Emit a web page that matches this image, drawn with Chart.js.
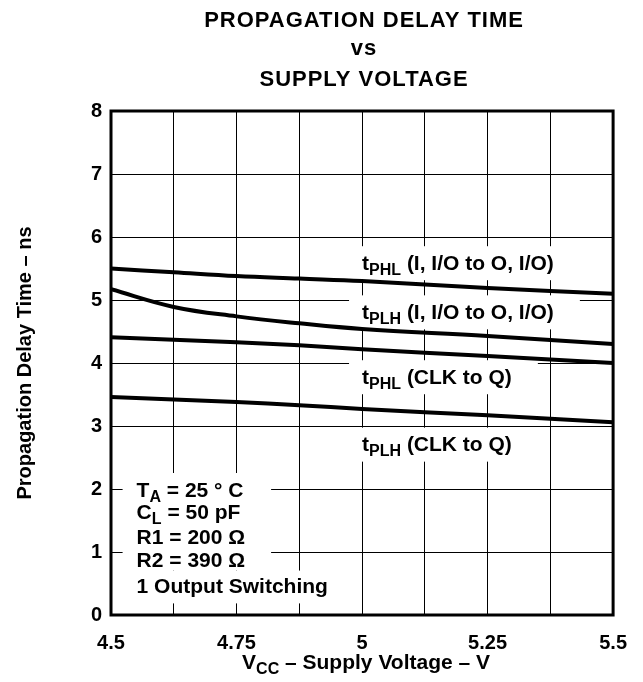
<!DOCTYPE html>
<html>
<head>
<meta charset="utf-8">
<script src="https://cdn.jsdelivr.net/npm/chart.js@4.4.1/dist/chart.umd.min.js"></script>
<style>
  html, body { margin: 0; padding: 0; background: #fff; }
  canvas { display: block; }
</style>
</head>
<body>
<canvas id="c" width="643" height="682"></canvas>
<script>
// ---- data ----
const titleLines = ['PROPAGATION DELAY TIME', 'vs', 'SUPPLY VOLTAGE'];
const yAxisTitle = 'Propagation Delay Time – ns';
const xTickLabels = ['4.5', '4.75', '5', '5.25', '5.5'];
const yTickLabels = ['0', '1', '2', '3', '4', '5', '6', '7', '8'];

const vcc       = [4.5, 4.625, 4.75, 4.875, 5.0, 5.25, 5.5];
const tPHL_IO   = [5.50, 5.44, 5.38, 5.34, 5.30, 5.19, 5.10];
const tPLH_IO   = [5.17, 4.89, 4.74, 4.63, 4.54, 4.43, 4.30];
const tPHL_CLK  = [4.41, 4.37, 4.33, 4.28, 4.22, 4.11, 4.00];
const tPLH_CLK  = [3.46, 3.42, 3.38, 3.33, 3.27, 3.17, 3.06];

// curve labels: [main, subscript, rest], anchored at (x value, y value)
const curveLabelText = [
  ['t', 'PHL', ' (I, I/O to O, I/O)'],
  ['t', 'PLH', ' (I, I/O to O, I/O)'],
  ['t', 'PHL', ' (CLK to Q)'],
  ['t', 'PLH', ' (CLK to Q)']
];
const curveLabelX = [5.0, 5.0, 5.0, 5.0];
const curveLabelY = [5.60, 4.82, 3.79, 2.72];

// test conditions box
const condText = [
  ['T', 'A', ' = 25 ° C'],
  ['C', 'L', ' = 50 pF'],
  ['R1 = 200 Ω', '', ''],
  ['R2 = 390 Ω', '', ''],
  ['1 Output Switching', '', '']
];
const condX = 4.551;
const condY = [2.0, 1.65, 1.24, 0.88, 0.47];

const xTitleParts = ['V', 'CC', ' – Supply Voltage – V'];

// ---- helpers ----
const FF = '"Liberation Sans", Arial, Helvetica, sans-serif';
function font(sz) { return 'bold ' + sz + 'px ' + FF; }

function richWidth(ctx, parts, big, small) {
  ctx.font = font(big);
  let w = ctx.measureText(parts[0]).width + ctx.measureText(parts[2]).width;
  ctx.font = font(small);
  w += ctx.measureText(parts[1]).width;
  return w;
}
function drawRich(ctx, parts, x, baseline, big, small, subDrop) {
  ctx.textAlign = 'left';
  ctx.textBaseline = 'alphabetic';
  ctx.fillStyle = '#000';
  ctx.font = font(big);
  ctx.fillText(parts[0], x, baseline);
  x += ctx.measureText(parts[0]).width;
  if (parts[1]) {
    ctx.font = font(small);
    ctx.fillText(parts[1], x, baseline + subDrop);
    x += ctx.measureText(parts[1]).width;
  }
  ctx.font = font(big);
  ctx.fillText(parts[2], x, baseline);
}

const deco = {
  id: 'deco',
  beforeDatasetsDraw(chart) {
    const ctx = chart.ctx, xs = chart.scales.x, ys = chart.scales.y;
    ctx.save();
    ctx.fillStyle = '#fff';
    // white boxes behind curve labels
    curveLabelText.forEach((p, i) => {
      const x = xs.getPixelForValue(curveLabelX[i]);
      const cy = ys.getPixelForValue(curveLabelY[i]);
      const w = richWidth(ctx, p, 21, 16);
      ctx.fillRect(x - 13, cy - 16, w + 39, 34);
    });
    // white boxes behind condition text
    const cx = xs.getPixelForValue(condX);
    let wmax = 0;
    for (let i = 0; i < 4; i++) wmax = Math.max(wmax, richWidth(ctx, condText[i], 21, 16));
    const y0 = ys.getPixelForValue(condY[0]);
    const y3 = ys.getPixelForValue(condY[3]);
    const y4 = ys.getPixelForValue(condY[4]);
    ctx.fillRect(cx - 14, y0 - 16, wmax + 40, (y3 - y0) + 27);
    const w4 = richWidth(ctx, condText[4], 21, 16);
    ctx.fillRect(cx - 14, y3 + 11, w4 + 30, (y4 - y3) + 7);
    ctx.restore();
  },
  afterDatasetsDraw(chart) {
    const ctx = chart.ctx, a = chart.chartArea, xs = chart.scales.x, ys = chart.scales.y;
    ctx.save();
    // frame
    ctx.strokeStyle = '#000';
    ctx.lineWidth = 3;
    ctx.strokeRect(a.left, a.top, a.right - a.left, a.bottom - a.top);
    // curve labels
    curveLabelText.forEach((p, i) => {
      const x = xs.getPixelForValue(curveLabelX[i]);
      const cy = ys.getPixelForValue(curveLabelY[i]);
      drawRich(ctx, p, x, cy + 7.5, 21, 16, 5);
    });
    // conditions
    const cx = xs.getPixelForValue(condX);
    condText.forEach((p, i) => {
      const cy = ys.getPixelForValue(condY[i]);
      drawRich(ctx, p, cx, cy + 7.5, 21, 16, 5);
    });
    ctx.restore();
  },
  afterDraw(chart) {
    const ctx = chart.ctx, a = chart.chartArea;
    const mid = (a.left + a.right) / 2;
    ctx.save();
    ctx.fillStyle = '#000';
    ctx.textAlign = 'center';
    ctx.textBaseline = 'alphabetic';
    ctx.font = font(22);
    ctx.letterSpacing = '1px';
    const baselines = [27, 55, 86];
    titleLines.forEach((t, i) => ctx.fillText(t, mid + 2, baselines[i]));
    ctx.letterSpacing = '0px';
    // x axis title with subscript
    const w = richWidth(ctx, xTitleParts, 21, 16);
    drawRich(ctx, xTitleParts, mid + 4 - w / 2, 669, 21, 16, 5);
    ctx.restore();
  }
};

function ds(data) {
  return {
    data: vcc.map((v, i) => ({ x: v, y: data[i] })),
    borderColor: '#000',
    borderWidth: 4,
    pointRadius: 0,
    fill: false,
    tension: 0.4
  };
}

new Chart(document.getElementById('c'), {
  type: 'line',
  data: {
    datasets: [ds(tPHL_IO), ds(tPLH_IO), ds(tPHL_CLK), ds(tPLH_CLK)]
  },
  options: {
    responsive: false,
    animation: false,
    devicePixelRatio: 1,
    layout: { padding: { top: 111, right: 27, left: 0, bottom: 0 } },
    plugins: { legend: { display: false }, tooltip: { enabled: false }, title: { display: false } },
    scales: {
      x: {
        type: 'linear',
        min: 4.5, max: 5.5,
        afterFit(s) { s.height = 67; },
        grid: { color: '#000', lineWidth: 1, drawTicks: false },
        border: { display: false },
        ticks: {
          stepSize: 0.125,
          autoSkip: false,
          maxRotation: 0,
          padding: 16,
          color: '#000',
          font: { family: FF, weight: 'bold', size: 20 },
          callback(v) {
            const q = v * 4;
            if (Math.abs(q - Math.round(q)) > 1e-6) return '';
            const idx = Math.round((v - 4.5) * 4);
            return xTickLabels[idx];
          }
        }
      },
      y: {
        min: 0, max: 8,
        afterFit(s) { s.width = 111; },
        grid: { color: '#000', lineWidth: 1, drawTicks: false },
        border: { display: false },
        ticks: {
          stepSize: 1,
          padding: 9,
          color: '#000',
          font: { family: FF, weight: 'bold', size: 20 },
          callback(v) { return yTickLabels[Math.round(v)]; }
        },
        title: {
          display: true,
          text: yAxisTitle,
          color: '#000',
          font: { family: FF, weight: 'bold', size: 20 },
          padding: { top: 13, bottom: 0 }
        }
      }
    }
  },
  plugins: [deco]
});
</script>
</body>
</html>
